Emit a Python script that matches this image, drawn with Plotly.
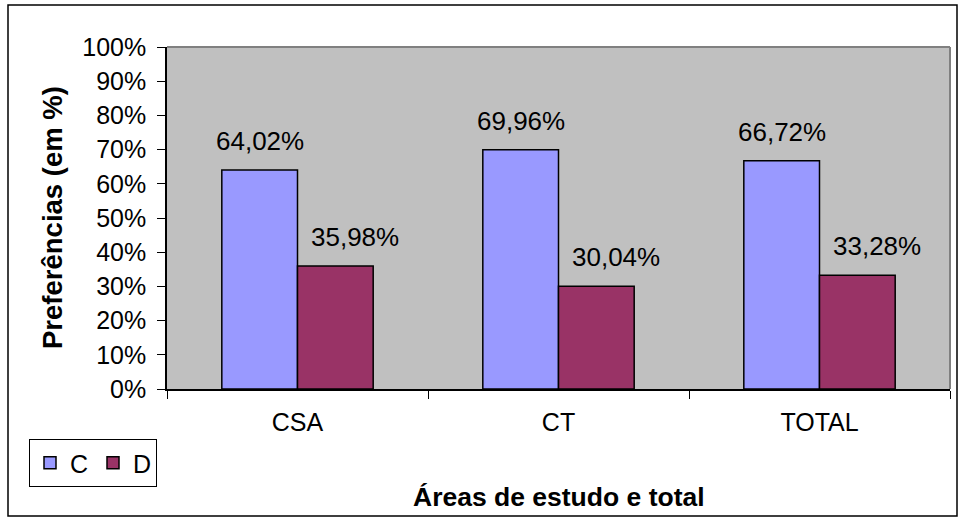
import plotly.graph_objects as go

categories = ["CSA", "CT", "TOTAL"]
series_names = ["C", "D"]
values_c = [64.02, 69.96, 66.72]
values_d = [35.98, 30.04, 33.28]
y_ticks = [0, 10, 20, 30, 40, 50, 60, 70, 80, 90, 100]
y_tick_labels = ["0%", "10%", "20%", "30%", "40%", "50%", "60%", "70%", "80%", "90%", "100%"]
x_title = "Áreas de estudo e total"
y_title = "Preferências (em %)"

FONT = "Liberation Sans, Arial, sans-serif"
W, H = 960, 519
L, R, T, B = 167, 10, 47, 130
PW, PH = W - L - R, H - T - B


def px_to_paper_x(px):
    return (px - L) / PW


def px_to_paper_y(py):
    return (H - B - py) / PH


def fmt(v):
    return f"{v:.2f}".replace(".", ",") + "%"


fig = go.Figure()
colors = ["#9999FF", "#993366"]
all_vals = [values_c, values_d]
for name, vals, col in zip(series_names, all_vals, colors):
    fig.add_trace(go.Bar(
        name=name, x=categories, y=vals,
        marker=dict(color=col, line=dict(color="black", width=1.5)),
        hoverinfo="skip",
    ))

bargap = 0.42
cat_w = PW / len(categories)
bar_w = cat_w * (1 - bargap) / 2
annotations = []
for i, vals in enumerate(all_vals):
    xs = -bar_w / 2 if i == 0 else bar_w / 2 + 20
    for c, v in zip(categories, vals):
        annotations.append(dict(
            x=c, y=v, xref="x", yref="y", text=fmt(v), showarrow=False,
            xshift=xs, yshift=29, yanchor="middle", xanchor="center",
            font=dict(family=FONT, size=26, color="black"),
        ))

annotations.append(dict(
    x=0.5, y=px_to_paper_y(497), xref="paper", yref="paper", text=f"<b>{x_title}</b>",
    showarrow=False, xanchor="center", yanchor="middle",
    font=dict(family=FONT, size=26.5, color="black"),
))
annotations.append(dict(
    x=px_to_paper_x(52), y=0.5, xref="paper", yref="paper", text=f"<b>{y_title}</b>",
    showarrow=False, xanchor="center", yanchor="middle", textangle=-90,
    font=dict(family=FONT, size=27.5, color="black"),
))

shapes = [
    dict(type="rect", xref="paper", yref="paper",
         x0=px_to_paper_x(8), x1=px_to_paper_x(957),
         y0=px_to_paper_y(516), y1=px_to_paper_y(5),
         line=dict(color="black", width=1.5), layer="below"),
    dict(type="line", xref="paper", yref="paper", x0=0, x1=1, y0=1, y1=1,
         line=dict(color="#808080", width=2)),
    dict(type="line", xref="paper", yref="paper", x0=1, x1=1, y0=0, y1=1,
         line=dict(color="#808080", width=2)),
]

fig.update_layout(
    width=W, height=H,
    margin=dict(l=L, r=R, t=T, b=B, pad=0),
    paper_bgcolor="white", plot_bgcolor="#C0C0C0",
    barmode="group", bargap=bargap, bargroupgap=0,
    font=dict(family=FONT, size=25, color="black"),
    showlegend=True,
    legend=dict(
        orientation="h", x=px_to_paper_x(29), y=px_to_paper_y(439),
        xanchor="left", yanchor="top",
        bgcolor="white", bordercolor="black", borderwidth=1,
        font=dict(family=FONT, size=25, color="black"),
        itemwidth=30, tracegroupgap=0,
        entrywidth=18, entrywidthmode="pixels",
    ),
    annotations=annotations,
    shapes=shapes,
)
fig.update_xaxes(
    showline=True, linecolor="black", linewidth=1.5,
    ticks="outside", ticklen=8, tickcolor="black", tickwidth=1,
    tickson="boundaries", showgrid=False, zeroline=False,
    tickfont=dict(family=FONT, size=25, color="black"),
    ticklabelstandoff=10,
)
fig.update_yaxes(
    range=[0, 100], tickvals=y_ticks, ticktext=y_tick_labels,
    showline=True, linecolor="black", linewidth=1.5,
    ticks="outside", ticklen=8, tickcolor="black", tickwidth=1,
    showgrid=False, zeroline=False,
    tickfont=dict(family=FONT, size=25, color="black"),
    ticklabelstandoff=6,
)

fig.write_html("out.html")
